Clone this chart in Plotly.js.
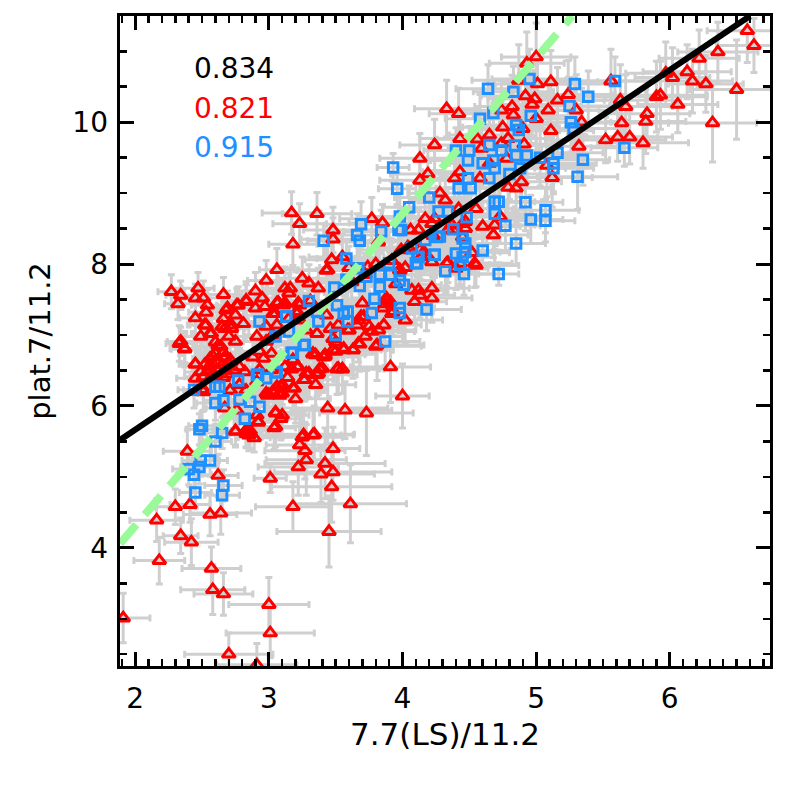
<!DOCTYPE html>
<html>
<head>
<meta charset="utf-8">
<script src="https://cdn.plot.ly/plotly-3.0.1.min.js"></script>
<style>html,body{margin:0;padding:0;background:#fff}</style>
</head>
<body>
<div id="chart" style="width:786px;height:786px"></div>
<script>
const redX = [
1.91,2.18,2.16,2.34,2.42,2.30,2.41,2.56,2.64,2.57,
2.58,2.66,3.00,3.01,2.70,2.91,3.45,3.18,3.61,3.47,
3.39,3.48,3.42,3.22,3.28,3.48,3.27,3.23,3.25,3.34,
2.62,2.39,3.01,2.75,2.83,2.86,2.89,3.04,3.09,2.92,
3.05,3.44,3.57,3.73,4.00,3.91,2.51,2.45,2.33,2.37,
2.98,3.03,3.08,3.19,3.26,3.30,3.38,3.36,3.51,3.55,
3.81,3.63,3.68,3.56,3.48,3.42,3.33,3.21,3.17,3.10,
3.06,2.71,2.67,2.76,2.69,2.78,3.14,3.20,3.35,3.50,
2.27,2.34,2.32,2.47,2.45,2.51,2.54,2.53,2.45,2.66,
2.76,2.68,2.75,2.66,2.53,2.57,2.67,2.72,2.81,2.83,
2.90,2.95,2.98,3.06,2.90,2.97,3.03,3.07,3.12,3.16,
3.25,3.30,3.37,3.44,3.47,3.55,3.77,3.85,3.48,3.48,
3.17,3.36,3.23,3.18,3.82,3.98,4.13,4.24,4.13,4.19,
4.06,4.12,4.17,4.24,4.16,4.22,4.07,4.22,4.13,4.22,
4.09,4.02,3.88,3.87,3.93,3.86,3.75,3.71,3.66,3.59,
3.52,3.43,3.46,3.36,3.23,3.21,3.31,3.15,3.06,3.23,
3.28,3.03,2.64,2.60,2.56,2.52,2.49,2.45,2.67,2.65,
2.56,2.61,2.51,2.57,2.71,2.78,2.82,2.34,2.37,2.45,
2.52,2.49,2.56,2.65,2.69,2.72,2.75,2.70,2.77,2.83,
2.91,2.98,2.93,2.88,2.96,3.02,3.05,2.98,3.06,3.11,
3.15,3.12,3.22,3.21,3.33,3.18,3.22,3.12,3.27,3.18,
3.09,3.08,2.99,2.71,2.51,2.93,3.02,2.91,2.83,3.05,
3.10,2.92,2.91,3.05,2.75,2.83,2.85,3.26,3.33,2.60,
6.58,6.63,6.36,6.22,5.97,6.02,6.13,6.17,6.27,6.50,
6.32,6.06,5.90,5.93,5.83,5.82,5.80,5.70,5.61,5.52,
5.64,5.67,5.63,5.56,5.11,5.01,5.00,4.93,4.87,4.33,
4.42,4.92,4.99,5.16,5.24,4.97,5.09,5.30,5.34,5.11,
5.32,4.82,4.74,4.83,5.00,4.75,4.90,4.65,4.79,4.56,
4.43,4.91,4.74,4.59,4.78,5.08,5.12,4.43,4.39,4.58,
4.65,4.89,4.79,4.85,4.28,4.32,4.42,4.55,4.73,4.47,
4.60,4.69,4.68,4.38,4.33,4.40,4.54,4.55,4.45,4.37,
4.47,4.52,4.22,4.34,4.45,4.14,4.05,4.34,4.43,4.23,
3.62,3.72,3.80,3.92,3.99,4.02,3.60,3.95,3.85,3.70,
3.88,3.91,3.82,3.60,3.48,3.43,3.72,3.80,3.63,3.67,
3.56,3.41,3.52,3.40,3.37,3.28,4.12,4.04,4.13,3.67,
3.69,3.74,3.98,2.62,2.58,2.66,2.70,2.62,2.68,2.74,
2.55,2.60,2.66,3.35,3.42,3.50,3.10,3.00,3.92,3.77
];
const redY = [
3.01,3.82,4.39,4.17,4.08,4.58,4.61,4.47,4.49,3.71,
3.41,3.35,3.20,2.80,2.50,2.35,4.23,4.58,4.62,4.86,
5.04,5.07,5.19,5.14,5.24,5.40,5.37,5.45,5.56,5.60,
5.02,5.36,4.98,5.65,5.61,5.65,5.55,5.69,5.82,5.77,
5.91,5.97,5.94,5.90,6.14,6.55,6.23,6.59,6.88,6.80,
6.18,6.20,6.18,6.25,6.37,6.46,6.52,6.44,6.52,6.52,
6.86,6.79,6.87,6.81,6.79,6.72,6.73,6.55,6.52,6.30,
6.27,6.22,5.97,5.94,6.45,6.30,6.40,6.10,6.30,6.90,
7.61,7.56,7.44,7.66,7.52,7.52,7.42,7.32,7.24,7.57,
7.42,7.35,7.28,7.23,7.14,7.02,7.09,7.09,7.16,7.49,
7.62,7.52,7.77,7.92,7.38,7.40,7.30,7.46,7.45,7.66,
7.80,7.73,7.66,7.92,8.06,8.10,8.64,8.58,8.48,8.35,
8.72,8.71,8.57,8.28,8.31,7.92,9.49,9.68,9.18,9.27,
8.48,8.48,8.64,8.64,8.17,8.03,7.63,7.66,7.56,7.52,
7.47,7.21,7.49,7.44,7.33,7.14,7.12,7.26,7.14,7.07,
7.14,7.28,7.09,7.02,7.42,7.33,7.48,7.23,7.14,7.21,
7.07,7.00,6.84,6.74,6.67,6.58,6.48,6.39,6.69,6.58,
6.51,6.51,6.41,6.41,6.65,6.55,6.48,6.91,6.81,6.59,
7.14,6.98,7.02,7.12,7.38,7.14,6.91,6.98,7.42,7.47,
6.98,6.91,6.77,6.69,6.67,6.74,7.30,7.12,7.45,7.42,
7.59,7.66,7.45,7.30,6.74,6.65,6.55,6.55,6.37,6.25,
6.27,6.15,6.15,6.22,6.20,6.51,6.51,6.34,6.22,5.90,
5.87,5.78,5.87,5.71,5.64,5.66,5.59,5.59,5.59,6.90,
11.29,11.08,10.99,10.90,10.69,10.63,10.71,10.58,10.54,10.46,
9.99,10.25,10.36,10.38,10.12,10.01,9.71,9.79,9.79,9.75,
9.99,10.22,10.31,10.58,10.57,10.54,10.92,10.83,10.59,10.19,
10.12,10.37,10.33,10.31,10.39,10.25,10.17,10.17,10.00,9.88,
9.66,10.22,10.17,10.10,10.05,9.93,9.91,9.82,9.77,9.76,
9.77,9.69,9.70,9.63,9.49,9.39,9.22,9.30,9.21,9.21,
9.42,9.16,9.08,9.07,9.00,8.90,8.78,8.78,8.67,8.60,
8.53,8.55,8.41,8.48,8.01,7.94,8.01,7.98,8.38,8.55,
8.50,8.16,8.57,8.48,8.57,8.10,8.22,8.02,8.01,8.40,
7.75,7.85,8.00,8.05,8.20,7.95,7.95,7.72,7.38,7.45,
7.52,7.47,7.07,7.07,6.95,7.91,6.98,6.84,6.79,6.88,
6.79,6.69,6.53,6.53,6.46,6.46,7.63,8.24,8.20,7.21,
7.26,7.96,7.91,6.85,6.70,6.75,6.60,6.62,6.50,6.50,
6.55,6.42,6.40,6.72,6.70,6.77,6.18,6.16,7.30,7.05
];
const redXErr = [
.20,.19,.20,.13,.20,.15,.15,.20,.23,.22,
.24,.22,.30,.33,.33,.30,.39,.28,.42,.45,
.40,.44,.45,.30,.30,.20,.30,.25,.30,.30,
.15,.18,.12,.10,.12,.14,.12,.16,.15,.13,
.15,.45,.35,.35,.20,.30,.15,.12,.10,.10,
.20,.18,.22,.25,.22,.30,.25,.30,.35,.28,
.35,.30,.28,.32,.26,.30,.25,.22,.24,.20,
.18,.15,.14,.16,.16,.18,.22,.26,.30,.28,
.10,.11,.10,.12,.11,.14,.12,.13,.12,.14,
.15,.13,.14,.16,.12,.14,.15,.13,.16,.14,
.15,.16,.14,.13,.17,.18,.15,.16,.18,.17,
.18,.20,.22,.22,.20,.25,.24,.25,.22,.24,
.22,.26,.20,.18,.28,.25,.30,.26,.30,.28,
.25,.28,.30,.26,.24,.30,.25,.28,.26,.30,
.24,.28,.26,.25,.30,.28,.26,.24,.22,.25,
.24,.22,.25,.24,.20,.22,.24,.18,.20,.22,
.24,.18,.14,.15,.13,.14,.12,.14,.16,.15,
.13,.15,.14,.16,.15,.17,.16,.10,.11,.12,
.13,.12,.14,.15,.14,.16,.15,.13,.16,.17,
.18,.17,.16,.15,.18,.17,.18,.16,.16,.18,
.16,.17,.18,.20,.22,.20,.22,.20,.22,.24,
.18,.20,.18,.15,.13,.18,.20,.16,.17,.22,
.20,.18,.22,.20,.14,.16,.15,.28,.30,.14,
.30,.28,.30,.30,.30,.28,.33,.30,.28,.35,
.33,.30,.38,.35,.32,.30,.34,.32,.30,.45,
.35,.35,.45,.30,.35,.32,.26,.28,.35,.24,
.22,.33,.35,.35,.35,.30,.38,.30,.35,.32,
.30,.28,.34,.30,.35,.30,.32,.30,.28,.30,
.30,.28,.26,.25,.30,.35,.30,.28,.26,.28,
.30,.30,.32,.28,.24,.26,.22,.28,.30,.26,
.28,.30,.26,.24,.26,.24,.28,.32,.24,.22,
.22,.28,.24,.26,.28,.24,.22,.24,.26,.24,
.24,.26,.28,.25,.30,.28,.22,.26,.24,.25,
.26,.24,.28,.30,.26,.22,.28,.34,.30,.26,
.28,.26,.30,.28,.26,.24,.22,.26,.24,.28,
.26,.22,.24,.13,.12,.14,.15,.13,.12,.14,
.12,.13,.14,.24,.26,.30,.18,.16,.30,.32
];
const redYErr = [
.35,.33,.30,.25,.33,.25,.25,.30,.30,.30,
.35,.30,.38,.35,.30,.30,.50,.35,.55,.50,
.40,.40,.50,.40,.50,.30,.40,.40,.40,.40,
.30,.30,.20,.20,.20,.25,.20,.30,.30,.25,
.30,.50,.40,.60,.45,.50,.30,.25,.25,.25,
.30,.28,.32,.36,.30,.34,.30,.30,.36,.34,
.50,.40,.38,.36,.34,.30,.35,.30,.26,.28,
.26,.24,.22,.22,.26,.28,.28,.34,.36,.30,
.24,.20,.22,.22,.20,.24,.22,.26,.22,.24,
.24,.22,.26,.24,.22,.24,.26,.22,.24,.26,
.26,.24,.28,.30,.26,.24,.28,.24,.26,.28,
.30,.26,.28,.34,.30,.32,.30,.26,.32,.30,
.30,.30,.28,.30,.32,.34,.35,.36,.32,.34,
.32,.30,.34,.36,.30,.32,.34,.30,.32,.34,
.30,.34,.32,.30,.34,.36,.30,.32,.34,.30,
.32,.30,.28,.30,.30,.28,.30,.26,.28,.30,
.28,.26,.24,.22,.22,.24,.22,.24,.24,.22,
.24,.22,.24,.26,.24,.26,.28,.20,.20,.22,
.24,.22,.24,.26,.24,.26,.24,.22,.26,.24,
.26,.24,.28,.24,.26,.28,.26,.24,.28,.26,
.28,.30,.26,.28,.30,.28,.30,.32,.30,.30,
.30,.32,.28,.24,.26,.28,.26,.28,.26,.30,
.32,.26,.30,.28,.22,.24,.22,.34,.36,.26,
.45,.38,.42,.40,.44,.42,.38,.45,.40,.70,
.55,.40,.50,.48,.40,.45,.36,.38,.34,.32,
.40,.45,.50,.45,.44,.42,.48,.44,.50,.40,
.36,.42,.40,.46,.48,.44,.42,.50,.48,.40,
.46,.44,.42,.40,.46,.42,.44,.40,.42,.40,
.38,.42,.40,.36,.40,.44,.42,.36,.34,.38,
.36,.38,.36,.34,.32,.34,.32,.36,.38,.34,
.36,.34,.32,.30,.32,.30,.34,.30,.32,.30,
.28,.30,.32,.34,.30,.32,.30,.28,.30,.32,
.34,.30,.32,.30,.34,.32,.30,.28,.30,.32,
.30,.28,.26,.30,.28,.34,.26,.30,.28,.26,
.34,.30,.36,.34,.30,.34,.30,.28,.26,.30,
.32,.34,.30,.22,.24,.22,.24,.22,.24,.26,
.24,.22,.24,.30,.32,.36,.28,.26,.30,.32
];
const blueX = [
2.44,2.60,2.63,2.77,2.92,2.98,3.05,3.18,3.26,2.60,
2.66,2.78,2.86,2.93,2.82,2.48,2.50,2.65,2.60,2.56,
2.49,2.48,2.40,2.44,2.45,2.66,2.65,3.87,3.30,3.13,
2.93,3.05,3.15,3.27,3.17,3.06,2.91,3.49,3.51,3.56,
3.59,3.59,3.36,3.37,3.13,3.50,3.93,3.96,4.05,4.20,
4.27,3.69,3.66,3.68,3.41,3.58,3.84,3.98,3.97,3.99,
4.17,4.26,4.11,4.11,4.24,4.07,3.67,3.58,3.68,3.73,
3.83,3.90,3.91,3.83,3.98,4.01,3.79,3.77,3.98,3.98,
4.18,5.59,5.29,5.39,5.25,4.95,4.64,4.83,4.68,4.58,
4.96,5.26,5.28,4.85,4.87,5.66,5.35,5.31,5.16,5.13,
5.13,5.03,4.93,4.84,4.85,4.74,4.65,4.50,4.40,4.49,
4.60,4.68,4.69,4.88,4.80,4.65,4.49,4.42,4.51,4.69,
4.72,4.69,4.92,5.07,5.07,4.96,4.77,4.85,4.60,4.72,
4.38,4.48,4.45,4.47,4.47,4.40,4.45,4.43,4.32,4.46,
4.28,4.24,4.34,4.12,4.10
];
const blueY = [
6.23,6.27,6.27,6.36,6.44,6.39,6.47,6.75,6.86,6.04,
6.08,6.09,6.06,5.99,5.82,5.67,5.72,5.62,5.50,5.23,
5.23,5.14,5.11,5.03,4.78,4.88,4.74,6.91,7.48,7.26,
7.19,6.98,7.05,6.86,6.75,6.48,6.44,7.67,7.42,7.30,
7.33,7.19,7.33,7.19,7.26,7.00,9.36,9.06,8.80,8.94,
8.74,8.56,8.41,8.33,8.33,8.08,8.46,8.67,8.48,8.48,
8.34,8.38,8.10,8.01,8.13,8.22,7.94,7.78,7.69,7.82,
7.85,8.01,7.85,7.68,7.77,7.71,7.51,7.31,7.38,7.31,
7.36,10.58,10.54,10.36,10.23,10.61,10.47,10.43,10.13,10.05,
10.09,10.00,9.91,9.96,9.89,9.64,9.47,9.23,9.57,9.42,
9.35,9.50,9.53,9.67,9.53,9.60,9.68,9.60,9.60,9.46,
9.42,9.46,9.35,9.35,9.27,9.21,9.21,9.07,9.07,8.88,
8.88,8.71,8.87,8.76,8.61,8.63,8.54,8.29,8.19,7.86,
8.49,8.66,8.36,8.29,8.17,8.15,8.10,7.99,7.90,7.86,
8.39,8.13,8.74,8.10,8.01
];
const blueXErr = [
.12,.14,.13,.15,.16,.18,.16,.20,.20,.14,
.15,.16,.18,.17,.14,.10,.10,.12,.12,.13,
.14,.14,.12,.13,.12,.14,.13,.26,.20,.20,
.18,.16,.18,.20,.18,.17,.16,.25,.22,.24,
.22,.24,.20,.22,.18,.22,.12,.14,.20,.26,
.28,.26,.24,.25,.12,.22,.28,.30,.26,.28,
.26,.28,.25,.26,.28,.24,.24,.22,.24,.26,
.28,.26,.30,.24,.26,.28,.22,.20,.26,.24,
.26,.30,.28,.32,.30,.28,.24,.30,.28,.26,
.32,.30,.34,.30,.28,.25,.20,.30,.34,.32,
.30,.34,.36,.30,.32,.30,.28,.26,.24,.28,
.30,.28,.30,.34,.32,.28,.26,.24,.26,.30,
.32,.28,.28,.25,.22,.24,.26,.22,.20,.15,
.26,.28,.26,.24,.26,.22,.24,.22,.20,.22,
.24,.24,.26,.22,.20
];
const blueYErr = [
.26,.24,.22,.24,.26,.28,.24,.30,.28,.24,
.22,.24,.26,.24,.22,.22,.20,.22,.24,.22,
.22,.24,.22,.24,.22,.22,.24,.34,.30,.28,
.26,.28,.26,.30,.28,.26,.24,.30,.28,.26,
.28,.30,.26,.28,.26,.28,.20,.22,.30,.28,
.30,.32,.30,.28,.24,.26,.30,.34,.32,.30,
.32,.30,.28,.30,.32,.28,.30,.28,.30,.32,
.30,.34,.32,.30,.34,.32,.28,.26,.30,.28,
.30,.34,.38,.36,.40,.42,.34,.36,.38,.34,
.40,.42,.38,.40,.36,.26,.36,.46,.38,.40,
.36,.40,.38,.36,.38,.40,.36,.34,.32,.36,
.34,.36,.38,.40,.36,.34,.36,.32,.34,.36,
.38,.34,.40,.32,.30,.34,.36,.30,.26,.16,
.34,.36,.32,.30,.32,.30,.28,.30,.32,.30,
.32,.30,.34,.26,.24
];
const fitAllX = [1.886, 6.60];
const fitAllY = [5.52, 11.497];
const fitUnityX = [1.886, 5.27];
const fitUnityY = [4.06, 11.497];
const statTexts = ['0.834', '0.821', '0.915'];
const statColors = ['#000000', '#ff0000', '#1e90ff'];
const statRows = [0.9195, 0.857, 0.797];
const xTitle = '7.7(LS)/11.2';
const yTitle = 'plat.7/11.2';

const errColor = '#cfcfcf';
function bars(arr){return {type:'data',array:arr,visible:true,color:errColor,thickness:3,width:3.5};}
const traces = [
  {x:redX,y:redY,mode:'markers',marker:{size:1,opacity:0},error_x:bars(redXErr),error_y:bars(redYErr),hoverinfo:'skip'},
  {x:blueX,y:blueY,mode:'markers',marker:{size:1,opacity:0},error_x:bars(blueXErr),error_y:bars(blueYErr),hoverinfo:'skip'},
  {x:redX,y:redY,mode:'markers',marker:{symbol:'triangle-up-open',size:11.5,color:'#ff0000',line:{width:3,color:'#ff0000'}}},
  {x:blueX,y:blueY,mode:'markers',marker:{symbol:'square-open',size:9.5,color:'#1e90ff',line:{width:3,color:'#1e90ff'}}},
  {x:fitUnityX,y:fitUnityY,mode:'lines',line:{color:'#98fb98',width:8,dash:'25px,13px'}},
  {x:fitAllX,y:fitAllY,mode:'lines',line:{color:'#000000',width:6}}
];
const axisCommon = {showgrid:false,zeroline:false,showline:true,linecolor:'#000',linewidth:3.4,mirror:'ticks',
  ticks:'inside',tickcolor:'#000',ticklen:14,tickwidth:3,tickfont:{family:'DejaVu Sans',size:28,color:'#000'}};
const layout = {
  width:786,height:786,margin:{l:119.7,r:15.7,t:15.7,b:119.7},paper_bgcolor:'#fff',plot_bgcolor:'#fff',showlegend:false,
  font:{family:'DejaVu Sans',color:'#000'},
  xaxis:Object.assign({},axisCommon,{range:[1.886,6.75],dtick:1,tick0:0,ticklabelstandoff:5,
    minor:{dtick:0.1,ticks:'inside',ticklen:7,tickwidth:2.5,tickcolor:'#000',showgrid:false},
    title:{text:xTitle,font:{family:'DejaVu Sans',size:31,color:'#000'},standoff:10}}),
  yaxis:Object.assign({},axisCommon,{range:[2.334,11.497],dtick:2,tick0:0,ticklabelstandoff:3,
    minor:{dtick:0.5,ticks:'inside',ticklen:7,tickwidth:2.5,tickcolor:'#000',showgrid:false},
    title:{text:yTitle,font:{family:'DejaVu Sans',size:29,color:'#000'},standoff:14}}),
  annotations:statTexts.map((t,i)=>({text:t,xref:'paper',yref:'paper',x:0.111,y:statRows[i],xanchor:'left',yanchor:'middle',showarrow:false,
    font:{family:'DejaVu Sans',size:28,color:statColors[i]}}))
};
Plotly.newPlot('chart',traces,layout,{displayModeBar:false,staticPlot:true});
</script>
</body>
</html>
